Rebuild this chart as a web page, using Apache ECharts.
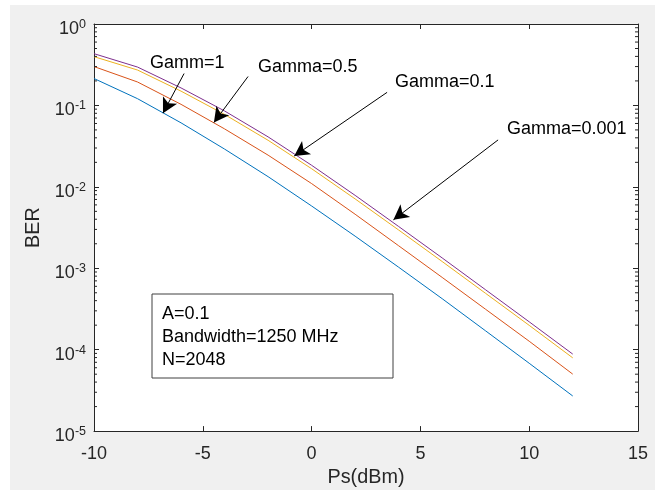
<!DOCTYPE html>
<html>
<head>
<meta charset="utf-8">
<script src="https://cdn.jsdelivr.net/npm/echarts@6/dist/echarts.min.js"></script>
<style>
html, body { margin: 0; padding: 0; background: #ffffff; }
#chart { width: 657px; height: 493px; }
</style>
</head>
<body>
<div id="chart"></div>
<script>
// ---- data ----
const xs = [-10, -8, -6, -4, -2, 0, 2, 4, 6, 8, 10, 12];
const berGamma1 = [0.214, 0.121, 0.0611, 0.0291, 0.01334, 0.00582, 0.00248, 0.00103, 4.23e-4, 1.70e-4, 6.81e-5, 2.70e-5];
const berGamma05 = [0.300, 0.194, 0.1031, 0.0515, 0.0245, 0.01097, 0.00461, 0.00189, 7.72e-4, 3.13e-4, 1.27e-4, 5.01e-5];
const berGamma01 = [0.397, 0.272, 0.1497, 0.0775, 0.0373, 0.0167, 0.00711, 0.00295, 0.00121, 4.91e-4, 1.99e-4, 7.94e-5];
const berGamma0001 = [0.432, 0.296, 0.164, 0.0855, 0.0411, 0.0184, 0.00786, 0.00326, 0.00134, 5.43e-4, 2.20e-4, 8.83e-5];

const xTicks = [-10, -5, 0, 5, 10, 15];
const yMinorTicks = [
  2e-5, 3e-5, 4e-5, 5e-5, 6e-5, 7e-5, 8e-5, 9e-5,
  2e-4, 3e-4, 4e-4, 5e-4, 6e-4, 7e-4, 8e-4, 9e-4,
  2e-3, 3e-3, 4e-3, 5e-3, 6e-3, 7e-3, 8e-3, 9e-3,
  2e-2, 3e-2, 4e-2, 5e-2, 6e-2, 7e-2, 8e-2, 9e-2,
  0.2, 0.3, 0.4, 0.5, 0.6, 0.7, 0.8, 0.9
];

const annotLabels = ['Gamm=1', 'Gamma=0.5', 'Gamma=0.1', 'Gamma=0.001'];
const annotTextPos = [[-7.43, 0.3355], [-2.46, 0.2998], [3.83, 0.1915], [8.98, 0.0513]];
const arrowFrom = [[-5.86, 0.2464], [-2.92, 0.2265], [3.47, 0.1448], [8.57, 0.0377]];
const arrowTo = [[-6.83, 0.0804], [-4.49, 0.0616], [-0.80, 0.02389], [3.76, 0.003935]];

const infoLines = ['A=0.1', 'Bandwidth=1250 MHz', 'N=2048'];

// ---- chart ----
const FONT = "'Liberation Sans', Arial, Helvetica, sans-serif";
const AX = '#262626';
const toPairs = (ys) => xs.map((x, i) => [x, ys[i]]);

const chart = echarts.init(document.getElementById('chart'), null, { renderer: 'canvas' });

function lineSeries(name, ys, color) {
  return {
    name: name, type: 'line', data: toPairs(ys),
    xAxisIndex: 0, yAxisIndex: 0,
    showSymbol: false, symbol: 'none', smooth: false,
    lineStyle: { color: color, width: 1 },
    itemStyle: { color: color },
    silent: true, animation: false, z: 3
  };
}

const option = {
  backgroundColor: '#ffffff',
  animation: false,
  textStyle: { fontFamily: FONT },
  grid: { left: 94, right: 19, top: 24, bottom: 58, show: true, backgroundColor: '#ffffff', borderWidth: 0 },
  xAxis: [
    {
      type: 'value', min: -10, max: 15, interval: 5, position: 'bottom',
      axisLine: { show: true, onZero: false, lineStyle: { color: AX, width: 1 } },
      axisTick: { show: true, inside: true, length: 5, lineStyle: { color: AX } },
      axisLabel: { show: true, margin: 14, color: AX, fontSize: 18, fontFamily: FONT,
        customValues: xTicks },
      splitLine: { show: false },
      name: 'Ps(dBm)', nameLocation: 'middle', nameGap: 30,
      nameTextStyle: { color: AX, fontSize: 19.8, fontFamily: FONT }
    },
    {
      type: 'value', min: -10, max: 15, interval: 5, position: 'top',
      axisLine: { show: true, onZero: false, lineStyle: { color: AX, width: 1 } },
      axisTick: { show: true, inside: true, length: 5, lineStyle: { color: AX } },
      axisLabel: { show: false }, splitLine: { show: false }
    }
  ],
  yAxis: [
    {
      type: 'log', logBase: 10, min: 1e-5, max: 1, splitNumber: 5, position: 'left',
      axisLine: { show: true, onZero: false, lineStyle: { color: AX, width: 1 } },
      axisTick: { show: true, inside: true, length: 5, lineStyle: { color: AX } },
      axisLabel: {
        show: true, margin: 8, color: AX, fontFamily: FONT, padding: [8, 0, 0, 0],
        formatter: function (v) {
          const e = Math.round(Math.log10(v));
          return '{b|10}{s|' + e + '}';
        },
        rich: {
          b: { fontSize: 18, lineHeight: 20, color: AX, fontFamily: FONT, verticalAlign: 'bottom' },
          s: { fontSize: 12.5, lineHeight: 20, color: AX, fontFamily: FONT, verticalAlign: 'top' }
        }
      },
      splitLine: { show: false },
      name: 'BER', nameLocation: 'middle', nameGap: 43, nameRotate: 90,
      nameTextStyle: { color: AX, fontSize: 19.8, fontFamily: FONT }
    },
    {
      type: 'log', logBase: 10, min: 1e-5, max: 1, splitNumber: 5, position: 'right',
      axisLine: { show: true, onZero: false, lineStyle: { color: AX, width: 1 } },
      axisTick: { show: true, inside: true, length: 5, lineStyle: { color: AX } },
      axisLabel: { show: false }, splitLine: { show: false }
    }
  ],
  series: [
    lineSeries('Gamma=1', berGamma1, '#0072BD'),
    lineSeries('Gamma=0.5', berGamma05, '#D95319'),
    lineSeries('Gamma=0.1', berGamma01, '#EDB120'),
    lineSeries('Gamma=0.001', berGamma0001, '#7E2F8E'),
    {
      name: 'minorTicks', type: 'custom', xAxisIndex: 0, yAxisIndex: 0,
      data: yMinorTicks.map(v => [-10, v]),
      silent: true, animation: false, clip: false, z: 4,
      renderItem: function (params, api) {
        const y = api.coord([-10, api.value(1)])[1];
        const cs = params.coordSys;
        return {
          type: 'group',
          children: [
            { type: 'line', shape: { x1: cs.x, y1: y, x2: cs.x + 3, y2: y }, style: { stroke: AX, lineWidth: 1 } },
            { type: 'line', shape: { x1: cs.x + cs.width - 3, y1: y, x2: cs.x + cs.width, y2: y }, style: { stroke: AX, lineWidth: 1 } }
          ]
        };
      }
    },
    {
      name: 'annotations', type: 'line', data: [], xAxisIndex: 0, yAxisIndex: 0,
      silent: true, animation: false, z: 6,
      markLine: {
        silent: true, animation: false,
        symbol: ['none', 'arrow'], symbolSize: [12, 15],
        lineStyle: { color: '#000000', width: 1, type: 'solid' },
        label: { show: false },
        emphasis: { disabled: true },
        data: arrowFrom.map((p, i) => [{ coord: p }, { coord: arrowTo[i] }])
      },
      markPoint: {
        silent: true, animation: false,
        symbol: 'circle', symbolSize: 0,
        itemStyle: { color: 'rgba(0,0,0,0)' },
        label: {
          show: true, position: [0, 0], align: 'left', verticalAlign: 'middle',
          color: '#000000', fontSize: 18, fontFamily: FONT,
          formatter: function (p) { return p.name; }
        },
        data: annotLabels.map((t, i) => ({ name: t, coord: annotTextPos[i] }))
      }
    }
  ],
  graphic: [
    { type: 'rect', z: -10, silent: true, shape: { x: 10, y: 5, width: 645, height: 485 }, style: { fill: '#f0f0f0' } },
    { type: 'rect', z: 100, silent: true, shape: { x: 152, y: 294, width: 241, height: 84 }, style: { fill: '#ffffff', stroke: '#404040', lineWidth: 1 } },
    { type: 'text', z: 101, silent: true, x: 162, y: 302,
      style: { text: infoLines.join('\n'), fill: '#000000', fontSize: 18, fontFamily: FONT, lineHeight: 23.3, textVerticalAlign: 'top', textAlign: 'left' } }
  ]
};

chart.setOption(option);
</script>
</body>
</html>
